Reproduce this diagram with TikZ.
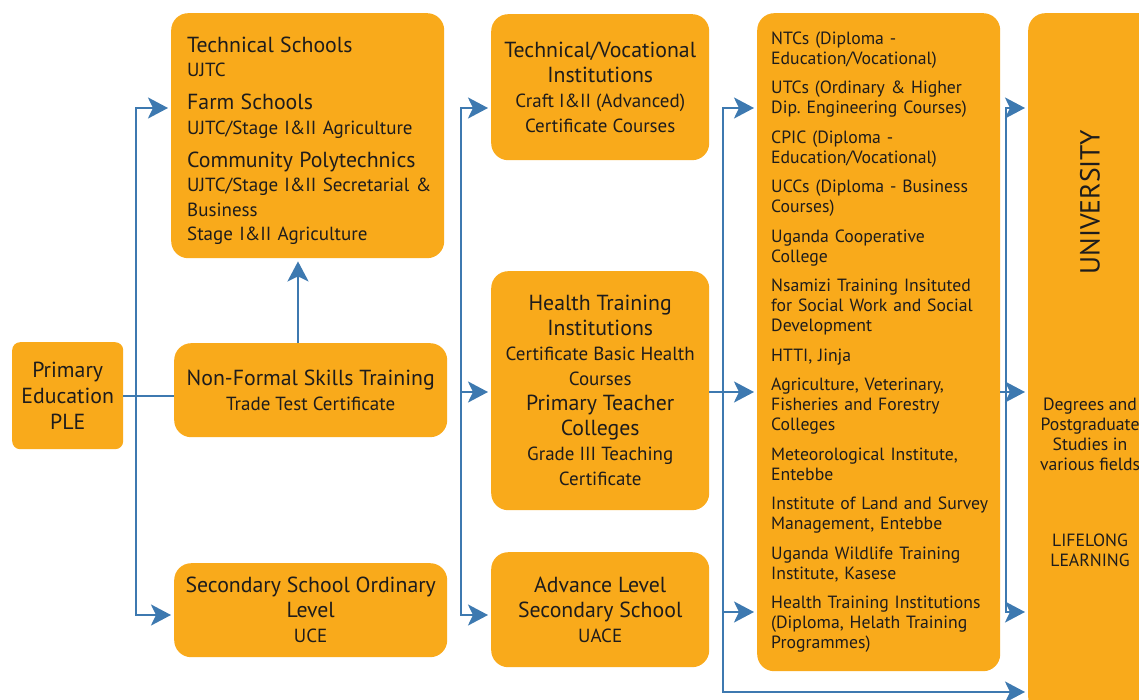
\documentclass[tikz,border=0pt]{standalone}
\usepackage{fontspec}
\setmainfont{PT Sans}
\usetikzlibrary{arrows.meta}

\definecolor{boxfill}{RGB}{249,170,27}
\definecolor{linkblue}{RGB}{61,121,176}
\definecolor{ink}{RGB}{30,28,28}

% larger type for the headings inside a box
\newcommand{\boxhead}[1]{{\fontsize{21.8}{25}\selectfont #1}}
\frenchspacing

\begin{document}
\begin{tikzpicture}[x=1pt,y=-1pt,
  box/.style={fill=boxfill, rounded corners=17pt, anchor=north west,
    inner sep=0pt, text=ink, align=center,
    font=\fontsize{19}{25}\selectfont},
  listbox/.style={box, align=left},
  link/.style={draw=linkblue, line width=2.5pt, line join=miter},
  arr/.style={link, -{Stealth[length=20pt,width=21pt,inset=5pt]}, shorten >=3pt},
  unitext/.style={text=ink, align=center, font=\fontsize{17.7}{20}\selectfont},
]
\useasboundingbox (0,0) rectangle (1139,700);
\clip (0,0) rectangle (1139,700);

% ---------- boxes ----------
\node[box, rounded corners=8pt, minimum width=111pt, minimum height=107pt,
      font=\fontsize{21.8}{26}\selectfont] (pri) at (12,342)
  {Primary\\Education\\PLE};

\node[listbox, minimum width=273pt, minimum height=245pt, text width=241pt,
      font=\fontsize{19}{24.5}\selectfont] (ts) at (171,13)
  {\rule{0pt}{26pt}\boxhead{Technical Schools}\\
   UJTC\\[8.5pt]
   \boxhead{Farm Schools}\\
   \mbox{UJTC/Stage I\&II Agriculture}\\[8.5pt]
   \boxhead{Community Polytechnics}\\
   \mbox{UJTC/Stage I\&II Secretarial \&}\\
   Business\\
   Stage I\&II Agriculture};

\node[box, minimum width=273pt, minimum height=94pt] (nf) at (174,343)
  {\boxhead{Non-Formal Skills Training}\\Trade Test Certificate};

\node[box, minimum width=273pt, minimum height=94pt] (sec) at (174,563)
  {\boxhead{Secondary School Ordinary}\\\boxhead{Level}\\UCE};

\node[box, minimum width=218pt, minimum height=146pt] (tv) at (491,14)
  {\boxhead{Technical/Vocational}\\\boxhead{Institutions}\\
   Craft I\&II (Advanced)\\Certificate Courses};

\node[box, minimum width=218pt, minimum height=239pt] (ht) at (491,271)
  {\boxhead{Health Training}\\\boxhead{Institutions}\\
   Certificate Basic Health\\Courses\\
   \boxhead{Primary Teacher}\\\boxhead{Colleges}\\
   Grade III Teaching\\Certificate};

\node[box, minimum width=218pt, minimum height=115pt] (al) at (491,552)
  {\boxhead{Advance Level}\\\boxhead{Secondary School}\\UACE};

\node[listbox, minimum width=243pt, minimum height=658pt, text width=215pt,
      font=\fontsize{17.7}{20}\selectfont] (col) at (757,13)
  {NTCs (Diploma -\\Education/Vocational)\\[9.5pt]
   \mbox{UTCs (Ordinary \& Higher}\\\mbox{Dip. Engineering Courses)}\\[9.5pt]
   CPIC (Diploma -\\Education/Vocational)\\[9.5pt]
   \mbox{UCCs (Diploma - Business}\\Courses)\\[9.5pt]
   Uganda Cooperative\\College\\[9.5pt]
   \mbox{Nsamizi Training Insituted}\\\mbox{for Social Work and Social}\\Development\\[9.5pt]
   HTTI, Jinja\\[9.5pt]
   Agriculture, Veterinary,\\Fisheries and Forestry\\Colleges\\[9.5pt]
   Meteorological Institute,\\Entebbe\\[9.5pt]
   \mbox{Institute of Land and Survey}\\Management, Entebbe\\[9.5pt]
   \mbox{Uganda Wildlife Training}\\Institute, Kasese\\[9.5pt]
   \mbox{Health Training Institutions}\\\mbox{(Diploma, Helath Training}\\Programmes)};

\node[box, minimum width=140pt, minimum height=701pt] (uni) at (1028,13) {};

\node[text=ink, rotate=90, font=\fontsize{27.6}{30}\selectfont] (unititle)
  at (1090,202) {UNIVERSITY};
\node[unitext] (unideg) at (1090,434)
  {Degrees and\\Postgraduate\\Studies in\\various fields};
\node[unitext] (unilife) at (1090,550) {LIFELONG\\LEARNING};

% ---------- connector rails ----------
\coordinate (busA) at (136,396);
\coordinate (busB) at (461,392);
\coordinate (busC) at (723,392);
\coordinate (busD) at (1006,392);
\coordinate (rowT) at (0,108);
\coordinate (rowB) at (0,615);
\coordinate (rowC) at (0,612);
\coordinate (rowZ) at (0,692);
\coordinate (upX) at (298,0);

% from primary education
\draw[link] (pri.east |- busA) -- (nf.west |- busA);
\draw[arr] (busA) |- (ts.west |- rowT);
\draw[arr] (busA) |- (sec.west |- rowB);
\draw[arr] (nf.north -| upX) -- (ts.south -| upX);

% into the second column
\draw[arr] (busB) |- (tv.west |- rowT);
\draw[arr] (busB) |- (al.west |- rowB);
\draw[arr] (busB) -- (ht.west |- busB);

% into the diploma column and the university
\draw[link] (ht.east |- busC) -- (busC);
\draw[arr] (busC) -- (col.west |- busC);
\draw[arr] (busC) |- (col.west |- rowT);
\draw[arr] (busC) |- (col.west |- rowC);
\draw[arr] (busC) |- (uni.west |- rowZ);

% from the diploma column to the university
\draw[link] (col.east |- busD) -- (busD);
\draw[arr] (busD) -- (uni.west |- busD);
\draw[arr] (busD) |- (uni.west |- rowT);
\draw[arr] (busD) |- (uni.west |- rowC);
\end{tikzpicture}
\end{document}
